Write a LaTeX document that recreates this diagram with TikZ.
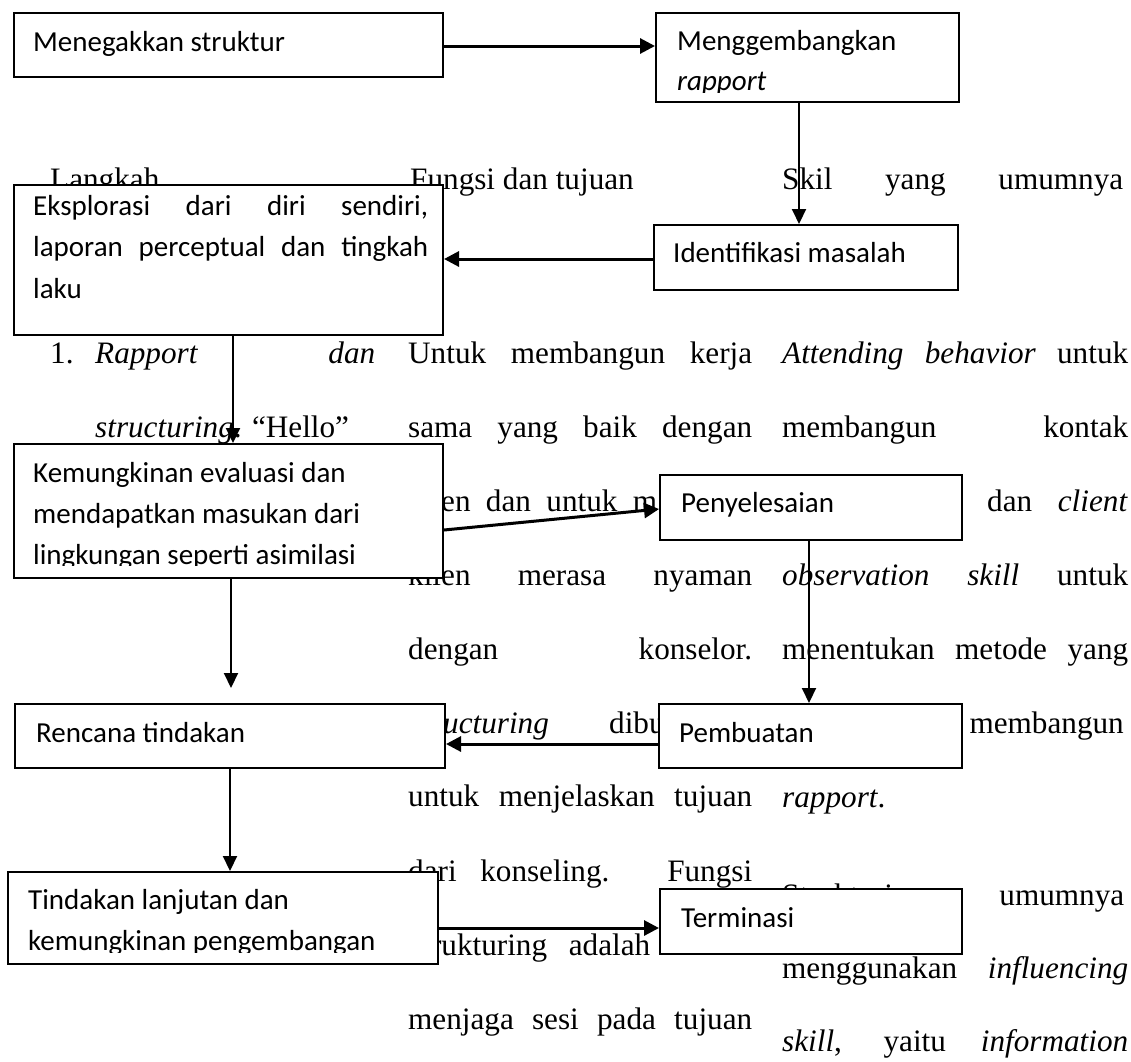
\documentclass[tikz,border=0pt]{standalone}
\usepackage{fontspec}
\setmainfont{Liberation Serif}
\newfontfamily\boxfont{Carlito}
\usetikzlibrary{arrows.meta}
\newcommand\bgfont{\fontsize{31.2}{36}\selectfont}
\newcommand\bxfont{\boxfont\fontsize{29}{35}\selectfont}
\newcommand\jb[2]{\makebox[#1pt][s]{#2}}
\tikzset{
  box/.style={draw, line width=2pt, fill=white, inner sep=0pt, anchor=north west},
  bg/.style={inner sep=0pt, anchor=base west, font=\bgfont},
  bx/.style={inner sep=0pt, anchor=base west, font=\bxfont},
  arrA/.style={line width=3pt, -{Triangle[length=15pt,width=15pt]}},
  arrB/.style={line width=2pt, -{Triangle[length=15pt,width=14pt]}},
}
\begin{document}
\begin{tikzpicture}[x=1pt,y=-1pt]
\useasboundingbox (0,0) rectangle (1131,1061);
% ---------- background document text ----------
\node[bg] (h1) at (50,189) {Langkah};
\node[bg] (h2) at (410,189) {Fungsi dan tujuan};
\node[bg] (h3) at (782,189) {\jb{341}{Skil yang umumnya}};
% column 1
\node[bg] (a1) at (50,363) {1.};
\node[bg] (a2) at (95,363) {\jb{280}{\textit{Rapport} \textit{dan}}};
\node[bg] (a3) at (95,437) {\textit{structuring}. “Hello”};
% column 2
\node[bg] (b1) at (408,363) {\jb{344}{Untuk membangun kerja}};
\node[bg] (b2) at (408,437) {\jb{344}{sama yang baik dengan}};
\node[bg] (b3) at (408,511) {\jb{249}{klien dan untuk m}};
\node[bg] (b4) at (408,585) {\jb{344}{klien merasa nyaman}};
\node[bg] (b5) at (408,659) {\jb{344}{dengan konselor.}};
\node[bg] (b6) at (410,733) {\textit{structuring}};
\node[bg] (b6b) at (609,733) {dibuat};
\node[bg] (b7) at (408,806) {\jb{344}{untuk menjelaskan tujuan}};
\node[bg] (b8) at (408,881) {\jb{344}{dari konseling. Fungsi}};
\node[bg] (b9) at (410,955) {\jb{240}{strukturing adalah}};
\node[bg] (b10) at (408,1029) {\jb{344}{menjaga sesi pada tujuan}};
% column 3
\node[bg] (c1) at (782,363) {\jb{346}{\textit{Attending behavior} untuk}};
\node[bg] (c2) at (782,437) {\jb{346}{membangun kontak}};
\node[bg] (c3) at (987,511) {dan};
\node[bg, anchor=base east] (c3b) at (1128,511) {\textit{client}};
\node[bg] (c4) at (782,585) {\jb{346}{\textit{observation skill} untuk}};
\node[bg] (c5) at (782,659) {\jb{346}{menentukan metode yang}};
\node[bg, anchor=base east] (c6) at (1124,733) {membangun};
\node[bg] (c7) at (782,807) {\textit{rapport}.};
\node[bg] (c8) at (782,905) {\jb{342}{Strukturing umumnya}};
\node[bg] (c9) at (782,978) {\jb{346}{menggunakan \textit{influencing}}};
\node[bg] (c10) at (782,1051) {\jb{346}{\textit{skill}, yaitu \textit{information}}};
% ---------- boxes ----------
\node[box, minimum width=429pt, minimum height=64pt] (A) at (13,12) {};
\node[box, minimum width=303pt, minimum height=89pt] (B) at (655,12) {};
\node[box, minimum width=304pt, minimum height=65pt] (C) at (653,224) {};
\node[box, minimum width=429pt, minimum height=150pt] (D) at (13,184) {};
\node[box, minimum width=429pt, minimum height=134pt] (E) at (13,443) {};
\node[box, minimum width=302pt, minimum height=65pt] (F) at (659,474) {};
\node[box, minimum width=430pt, minimum height=64pt] (G) at (14,703) {};
\node[box, minimum width=303pt, minimum height=64pt] (H) at (658,703) {};
\node[box, minimum width=430pt, minimum height=92pt] (I) at (7,871) {};
\node[box, minimum width=302pt, minimum height=65pt] (J) at (659,888) {};
% ---------- box texts ----------
\node[bx] (tA) at (33,51) {Menegakkan struktur};
\begin{scope}
  \clip (656,13) rectangle (957,92);
  \node[bx] (tB1) at (677,50) {Menggembangkan};
  \node[bx] (tB2) at (677,90) {\textit{rapport}};
\end{scope}
\node[bx] (tC) at (673,262) {Identifikasi masalah};
\node[bx] (tD1) at (33,215) {\jb{395}{Eksplorasi dari diri sendiri,}};
\node[bx] (tD2) at (33,256) {\jb{395}{laporan perceptual dan tingkah}};
\node[bx] (tD3) at (33,298) {laku};
\begin{scope}
  \clip (14,444) rectangle (441,565);
  \node[bx] (tE1) at (33,482) {Kemungkinan evaluasi dan};
  \node[bx] (tE2) at (33,523) {mendapatkan masukan dari};
  \node[bx] (tE3) at (33,564) {lingkungan seperti asimilasi};
\end{scope}
\node[bx] (tF) at (681,512) {Penyelesaian};
\node[bx] (tG) at (36,742) {Rencana tindakan};
\node[bx] (tH) at (679,742) {Pembuatan};
\begin{scope}
  \clip (8,872) rectangle (436,952);
  \node[bx] (tI1) at (28,909) {Tindakan lanjutan dan};
  \node[bx] (tI2) at (28,950) {kemungkinan pengembangan};
\end{scope}
\node[bx] (tJ) at (681,927) {Terminasi};
% ---------- connectors ----------
\coordinate (e1) at (231,688);
\draw[arrA] ([yshift=-1pt]A.east) -- ([yshift=-1pt]A.east -| B.west);
\draw[arrB] ([xshift=-8.5pt]B.south) -- ([xshift=-8.5pt]B.south |- C.north);
\draw[arrA] ([yshift=-1.5pt]C.west) -- ([yshift=-1.5pt]C.west -| D.east);
\draw[arrB] ([xshift=4.5pt]D.south) -- ([xshift=4.5pt]D.south |- E.north);
\draw[arrA] ([yshift=-19pt]E.east) -- ([yshift=-1.5pt]F.west);
\draw[arrB] (e1 |- E.south) -- (e1);
\draw[arrB] ([xshift=-2pt]F.south) -- ([xshift=-2pt]F.south |- H.north);
\draw[arrA] ([yshift=-8pt]H.west) -- ([yshift=-8pt]H.west -| G.east);
\draw[arrB] (G.south) -- (G.south |- I.north);
\draw[arrA] ([yshift=-10pt]I.east) -- ([yshift=-10pt]I.east -| J.west);
\end{tikzpicture}
\end{document}
